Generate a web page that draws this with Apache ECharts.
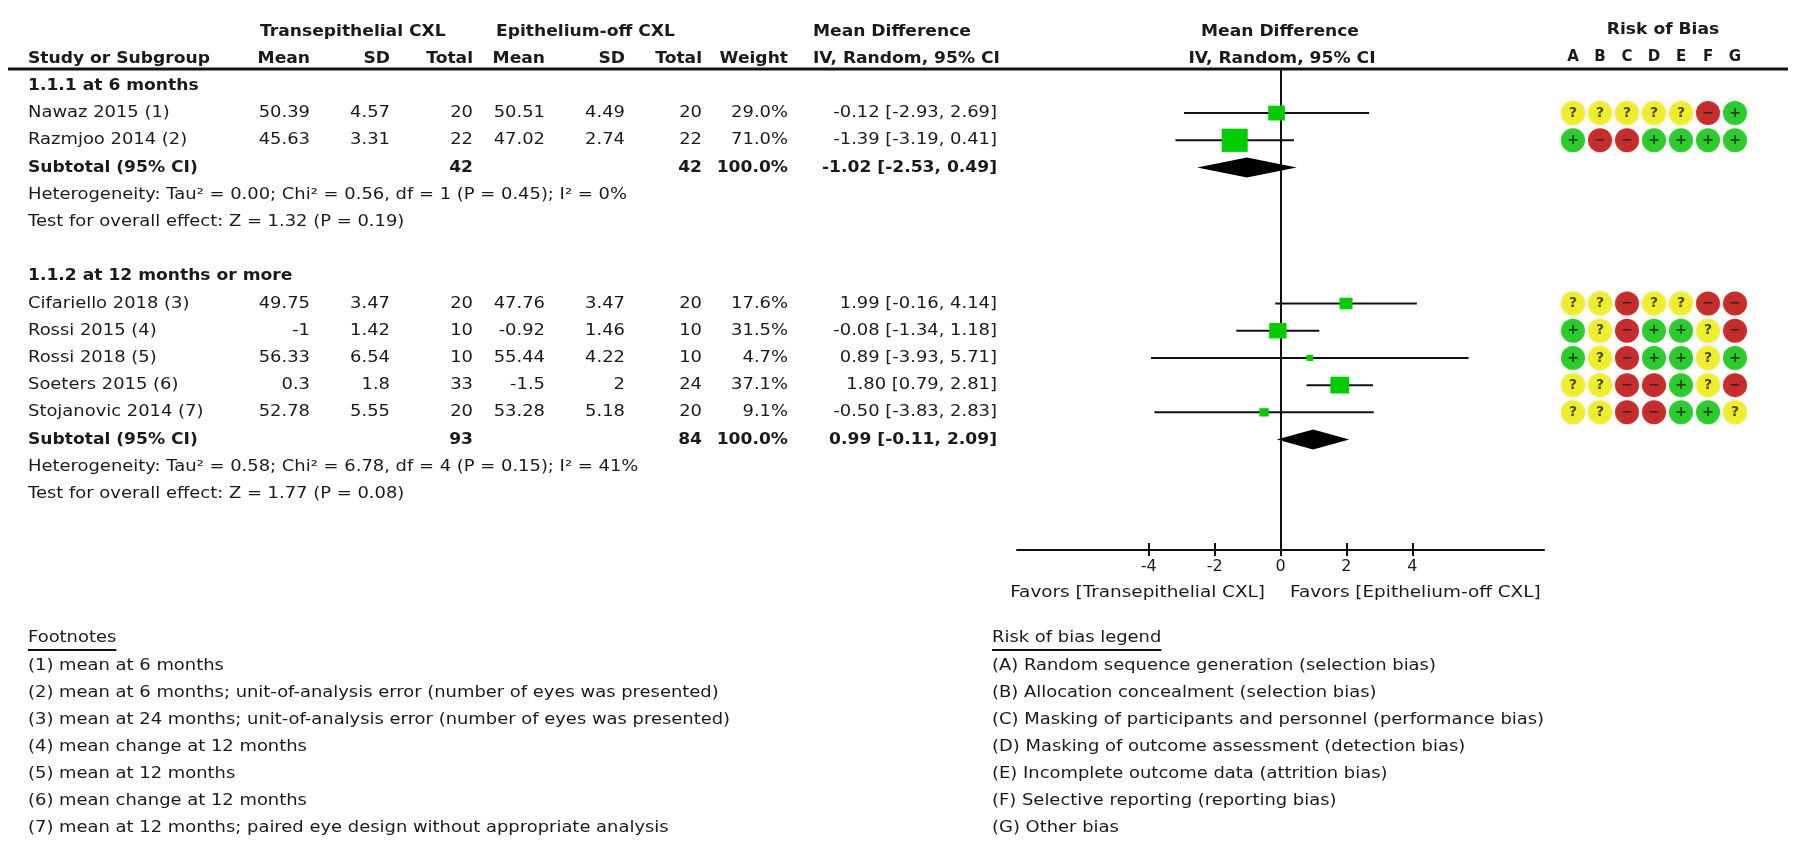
<!DOCTYPE html>
<html><head><meta charset="utf-8">
<script src="https://cdn.jsdelivr.net/npm/echarts@6/dist/echarts.min.js"></script>
<style>html,body{margin:0;padding:0;background:#fff}#c{width:1800px;height:849px}</style>
</head><body><div id="c"></div><script>
// ---------------- DATA ----------------
const studies   = ['Nawaz 2015 (1)','Razmjoo 2014 (2)','Cifariello 2018 (3)','Rossi 2015 (4)','Rossi 2018 (5)','Soeters 2015 (6)','Stojanovic 2014 (7)'];
const trMean    = ['50.39','45.63','49.75','-1','56.33','0.3','52.78'];
const trSD      = ['4.57','3.31','3.47','1.42','6.54','1.8','5.55'];
const trTotal   = [20,22,20,10,10,33,20];
const eoMean    = ['50.51','47.02','47.76','-0.92','55.44','-1.5','53.28'];
const eoSD      = ['4.49','2.74','3.47','1.46','4.22','2','5.18'];
const eoTotal   = [20,22,20,10,10,24,20];
const weight    = [29.0,71.0,17.6,31.5,4.7,37.1,9.1];
const md        = [-0.12,-1.39,1.99,-0.08,0.89,1.80,-0.50];
const ciLow     = [-2.93,-3.19,-0.16,-1.34,-3.93,0.79,-3.83];
const ciHigh    = [2.69,0.41,4.14,1.18,5.71,2.81,2.83];
const robRows   = ['?????-+','+--++++','??-??--','+?-++?-','+?-++?+','??--+?-','??--++?'];
const robDomains= ['A','B','C','D','E','F','G'];

const subgroups   = ['1.1.1 at 6 months','1.1.2 at 12 months or more'];
const subTrTotal  = [42,93];
const subEoTotal  = [42,84];
const subMD       = [-1.02,0.99];
const subLow      = [-2.53,-0.11];
const subHigh     = [0.49,2.09];
const hetText     = ['Heterogeneity: Tau² = 0.00; Chi² = 0.56, df = 1 (P = 0.45); I² = 0%',
                     'Heterogeneity: Tau² = 0.58; Chi² = 6.78, df = 4 (P = 0.15); I² = 41%'];
const testText    = ['Test for overall effect: Z = 1.32 (P = 0.19)','Test for overall effect: Z = 1.77 (P = 0.08)'];

// row order of the table (one slot per line)
const rowSlots = ['sg0','Nawaz 2015 (1)','Razmjoo 2014 (2)','sub0','het0','test0','gap',
                  'sg1','Cifariello 2018 (3)','Rossi 2015 (4)','Rossi 2018 (5)','Soeters 2015 (6)','Stojanovic 2014 (7)','sub1','het1','test1'];

const xTicks = [-4,-2,0,2,4];
const favorsLeft = 'Favors [Transepithelial CXL]';
const favorsRight = 'Favors [Epithelium-off CXL]';

const footnotes = ['(1) mean at 6 months',
  '(2) mean at 6 months; unit-of-analysis error (number of eyes was presented)',
  '(3) mean at 24 months; unit-of-analysis error (number of eyes was presented)',
  '(4) mean change at 12 months',
  '(5) mean at 12 months',
  '(6) mean change at 12 months',
  '(7) mean at 12 months; paired eye design without appropriate analysis'];
const robLegend = ['(A) Random sequence generation (selection bias)',
  '(B) Allocation concealment (selection bias)',
  '(C) Masking of participants and personnel (performance bias)',
  '(D) Masking of outcome assessment (detection bias)',
  '(E) Incomplete outcome data (attrition bias)',
  '(F) Selective reporting (reporting bias)',
  '(G) Other bias'];

// ---------------- LAYOUT / STYLE ----------------
const FONT = "'DejaVu Sans', sans-serif";
const FS = 16;
const INK = '#1a1a1a';
const SX_REG = 1.12, SX_BOLD = 1.07;
const COL = {study:28, m1:310, sd1:390, n1:473, m2:545, sd2:625, n2:702, w:788, ci:997};
const f2 = v => (v < 0 ? '-' : '') + Math.abs(v).toFixed(2);
const ciStr = (m,l,h) => f2(m) + ' [' + f2(l) + ', ' + f2(h) + ']';
const robColor = {'+':'#00c400','?':'#f0f000','-':'#be0000'};
const robGlyph = {'+':'+','?':'?','-':'−'};

// table rows
const tableRows = [];
subgroups.forEach((s,g) => {
  tableRows.push({row: rowSlots.indexOf('sg'+g), cells:[{x:COL.study,t:s,a:'left',b:true}]});
  tableRows.push({row: rowSlots.indexOf('sub'+g), cells:[
    {x:COL.study,t:'Subtotal (95% CI)',a:'left',b:true},
    {x:COL.n1,t:String(subTrTotal[g]),a:'right',b:true},
    {x:COL.n2,t:String(subEoTotal[g]),a:'right',b:true},
    {x:COL.w,t:'100.0%',a:'right',b:true},
    {x:COL.ci,t:ciStr(subMD[g],subLow[g],subHigh[g]),a:'right',b:true}]});
  tableRows.push({row: rowSlots.indexOf('het'+g), cells:[{x:COL.study,t:hetText[g],a:'left'}]});
  tableRows.push({row: rowSlots.indexOf('test'+g), cells:[{x:COL.study,t:testText[g],a:'left'}]});
});
studies.forEach((s,i) => {
  tableRows.push({row: rowSlots.indexOf(s), cells:[
    {x:COL.study,t:s,a:'left'},
    {x:COL.m1,t:trMean[i],a:'right'},{x:COL.sd1,t:trSD[i],a:'right'},{x:COL.n1,t:String(trTotal[i]),a:'right'},
    {x:COL.m2,t:eoMean[i],a:'right'},{x:COL.sd2,t:eoSD[i],a:'right'},{x:COL.n2,t:String(eoTotal[i]),a:'right'},
    {x:COL.w,t:weight[i].toFixed(1)+'%',a:'right'},
    {x:COL.ci,t:ciStr(md[i],ciLow[i],ciHigh[i]),a:'right'}]});
});

const robData = [];
studies.forEach((s,i) => {
  robRows[i].split('').forEach((c,j) => {
    robData.push({name: robGlyph[c], value:[j, rowSlots.indexOf(s)], itemStyle:{color: robColor[c]}});
  });
});

// text element anchored at (x,y), slightly widened like the reference glyphs
function txt(x,y,t,opt){
  opt = opt||{};
  const sx = opt.sx || (opt.b ? SX_BOLD : SX_REG);
  return {type:'text', silent:true, x:x, y:y, scaleX:sx, scaleY:1,
    style:{text:t, x:0, y:0, align:opt.a||'left', verticalAlign:'middle',
      fontSize:opt.fs||FS, fontFamily:FONT, fontWeight:opt.b?'bold':'normal', fill:INK}};
}
function textWidth(t,bold,fs,sx){
  const c=document.createElement('canvas').getContext('2d');
  c.font=(bold?'bold ':'')+(fs||FS)+'px '+FONT; return c.measureText(t).width*(sx||SX_REG);
}

const graphics = [
  {type:'line', silent:true, shape:{x1:8,y1:69,x2:1788,y2:69}, style:{stroke:'#111',lineWidth:3}},
  txt(260,32,'Transepithelial CXL',{b:true}),
  txt(496,32,'Epithelium-off CXL',{b:true}),
  txt(813,32,'Mean Difference',{b:true}),
  txt(1280,32,'Mean Difference',{b:true,a:'center'}),
  txt(1663,30,'Risk of Bias',{b:true,a:'center'}),
  txt(COL.study,59,'Study or Subgroup',{b:true}),
  txt(COL.m1,59,'Mean',{b:true,a:'right'}),
  txt(COL.sd1,59,'SD',{b:true,a:'right'}),
  txt(COL.n1,59,'Total',{b:true,a:'right'}),
  txt(COL.m2,59,'Mean',{b:true,a:'right'}),
  txt(COL.sd2,59,'SD',{b:true,a:'right'}),
  txt(COL.n2,59,'Total',{b:true,a:'right'}),
  txt(COL.w,59,'Weight',{b:true,a:'right'}),
  txt(813,59,'IV, Random, 95% CI',{b:true}),
  txt(1282,59,'IV, Random, 95% CI',{b:true,a:'center'}),
  txt(1265,593,favorsLeft,{a:'right',sx:1.15}),
  txt(1290,593,favorsRight,{sx:1.15}),
  txt(28,638,'Footnotes'),
  {type:'line', silent:true, shape:{x1:28,y1:650,x2:28+textWidth('Footnotes'),y2:650}, style:{stroke:'#111',lineWidth:2}},
  txt(992,638,'Risk of bias legend'),
  {type:'line', silent:true, shape:{x1:992,y1:650,x2:992+textWidth('Risk of bias legend'),y2:650}, style:{stroke:'#111',lineWidth:2}}
];
footnotes.forEach((t,i)=>graphics.push(txt(28,666+27*i,t)));
robLegend.forEach((t,i)=>graphics.push(txt(992,666+27*i,t)));

const Y_MIN = -0.62, Y_MAX = 17.06;

const chart = echarts.init(document.getElementById('c'), null, {renderer:'canvas'});
chart.setOption({
  animation:false,
  backgroundColor:'#fff',
  grid:[
    {left:1017, top:69, width:527, height:481},
    {left:1559.5, top:69, width:189, height:481}
  ],
  xAxis:[
    {gridIndex:0, type:'value', min:-8, max:8, interval:2,
     axisLine:{show:true, onZero:false, lineStyle:{color:'#111', width:2}},
     axisTick:{show:true, customValues:xTicks, length:6, lineStyle:{color:'#111', width:2}},
     axisLabel:{show:true, customValues:xTicks, color:INK, fontSize:16, fontFamily:FONT, margin:9},
     splitLine:{show:false}},
    {gridIndex:1, type:'category', data:robDomains, position:'top',
     axisLine:{show:false}, axisTick:{show:false},
     axisLabel:{color:INK, fontSize:15, fontWeight:'bold', fontFamily:FONT, margin:4},
     splitLine:{show:false}},
    { // same scale, ticks pointing upward so they cross the axis line
     gridIndex:0, type:'value', min:-8, max:8, interval:2, position:'bottom',
     axisLine:{show:false, onZero:false},
     axisTick:{show:true, inside:true, customValues:xTicks, length:7, lineStyle:{color:'#111', width:2}},
     axisLabel:{show:false}, splitLine:{show:false}}
  ],
  yAxis:[
    {gridIndex:0, type:'value', inverse:true, min:Y_MIN, max:Y_MAX,
     axisLine:{show:true, onZero:true, lineStyle:{color:'#111', width:2}},
     axisTick:{show:false}, axisLabel:{show:false}, splitLine:{show:false}},
    {gridIndex:1, type:'value', inverse:true, min:Y_MIN, max:Y_MAX, show:false}
  ],
  graphic: graphics,
  series:[
    { // table text, aligned to the row scale
      type:'custom', xAxisIndex:0, yAxisIndex:0, clip:false, silent:true,
      data: tableRows.map(r => [0, r.row]),
      renderItem:(params, api) => {
        const r = tableRows[params.dataIndex];
        const y = api.coord([0, api.value(1)])[1];
        return {type:'group', children: r.cells.map(c => txt(c.x, y, c.t, {a:c.a, b:c.b}))};
      }
    },
    { // study CIs + weighted squares
      type:'custom', xAxisIndex:0, yAxisIndex:0, clip:false, silent:true, z:5,
      data: studies.map((s,i) => [md[i], rowSlots.indexOf(s), ciLow[i], ciHigh[i], weight[i]]),
      renderItem:(params, api) => {
        const pL = api.coord([api.value(2), api.value(1)]);
        const pH = api.coord([api.value(3), api.value(1)]);
        const pM = api.coord([api.value(0), api.value(1)]);
        const s = 2.75*Math.sqrt(api.value(4));
        const w = s*1.12;
        return {type:'group', children:[
          {type:'line', shape:{x1:pL[0],y1:pL[1],x2:pH[0],y2:pH[1]}, style:{stroke:'#111', lineWidth:2}},
          {type:'rect', shape:{x:pM[0]-w/2, y:pM[1]-s/2, width:w, height:s}, style:{fill:'#00cc00'}}
        ]};
      }
    },
    { // subtotal diamonds
      type:'custom', xAxisIndex:0, yAxisIndex:0, clip:false, silent:true, z:5,
      data: subgroups.map((s,g) => [subMD[g], rowSlots.indexOf('sub'+g), subLow[g], subHigh[g]]),
      renderItem:(params, api) => {
        const pL = api.coord([api.value(2), api.value(1)]);
        const pH = api.coord([api.value(3), api.value(1)]);
        const pM = api.coord([api.value(0), api.value(1)]);
        const h = 10;
        return {type:'polygon', shape:{points:[pL,[pM[0],pM[1]-h],pH,[pM[0],pM[1]+h]]}, style:{fill:'#000'}};
      }
    },
    { // risk of bias
      type:'scatter', xAxisIndex:1, yAxisIndex:1, symbol:'circle', symbolSize:24, silent:true,
      data: robData,
      itemStyle:{shadowBlur:4, shadowColor:'rgba(0,0,0,0.15)'},
      label:{show:true, position:'inside', formatter:'{b}', color:'#222', fontSize:14, fontWeight:'bold', fontFamily:FONT}
    }
  ]
});
</script></body></html>
